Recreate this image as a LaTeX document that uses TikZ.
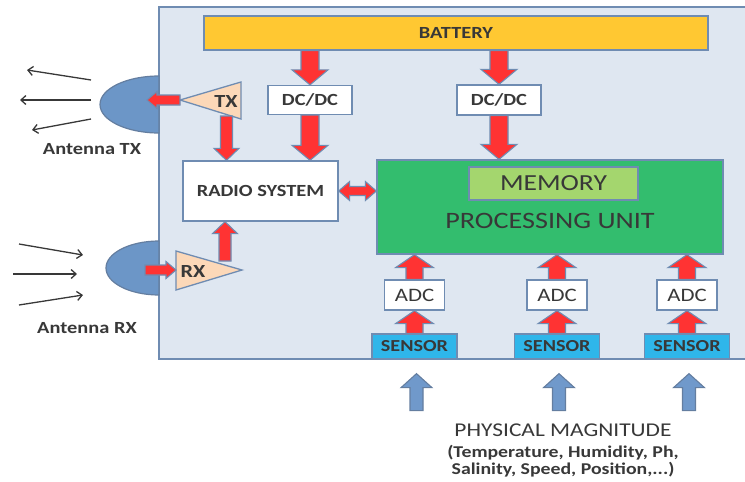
\documentclass[tikz,border=0pt]{standalone}
\usepackage{fontspec}
\setmainfont{Carlito}[FakeStretch=1.2]
\usetikzlibrary{calc,arrows.meta}
\definecolor{boardfill}{HTML}{DFE7F1}
\definecolor{edgeblue}{HTML}{6F8CB2}
\definecolor{battfill}{HTML}{FFC832}
\definecolor{pufill}{HTML}{33BD6E}
\definecolor{memfill}{HTML}{A4D66E}
\definecolor{sensfill}{HTML}{2FB6EA}
\definecolor{ampfill}{HTML}{FCD8B8}
\definecolor{antfill}{HTML}{6C96C7}
\definecolor{arrred}{HTML}{FF3333}
\definecolor{arrblue}{HTML}{7099CB}
\definecolor{txtgrey}{HTML}{383838}
\tikzset{
  arrshaft/.store in=\arrshaft, arrhead/.store in=\arrhead, arrtip/.store in=\arrtip,
  arrshaft=9pt, arrhead=18pt, arrtip=15pt,
  blockarrow/.style={draw=edgeblue, line width=1.1pt, line join=miter, fill=arrred,
    to path={($(\tikztotarget)!\arrtip!(\tikztostart)$) coordinate (ah)
      ($(\tikztostart)!\arrshaft!90:(\tikztotarget)$)
      -- ($(ah)!\arrshaft!90:(\tikztotarget)$)
      -- ($(ah)!\arrhead!90:(\tikztotarget)$)
      -- (\tikztotarget)
      -- ($(ah)!\arrhead!-90:(\tikztotarget)$)
      -- ($(ah)!\arrshaft!-90:(\tikztotarget)$)
      -- ($(\tikztostart)!\arrshaft!-90:(\tikztotarget)$) -- cycle}},
  twinarrow/.style={draw=edgeblue, line width=1.1pt, line join=miter, fill=arrred,
    to path={($(\tikztotarget)!\arrtip!(\tikztostart)$) coordinate (ah)
      ($(\tikztostart)!\arrtip!(\tikztotarget)$) coordinate (at)
      (\tikztostart)
      -- ($(at)!\arrhead!-90:(\tikztostart)$)
      -- ($(at)!\arrshaft!-90:(\tikztostart)$)
      -- ($(ah)!\arrshaft!90:(\tikztotarget)$)
      -- ($(ah)!\arrhead!90:(\tikztotarget)$)
      -- (\tikztotarget)
      -- ($(ah)!\arrhead!-90:(\tikztotarget)$)
      -- ($(ah)!\arrshaft!-90:(\tikztotarget)$)
      -- ($(at)!\arrshaft!90:(\tikztostart)$)
      -- ($(at)!\arrhead!90:(\tikztostart)$) -- cycle}},
  inarrow/.style={blockarrow, fill=arrblue, draw=edgeblue!90!black,
    arrshaft=6.5pt, arrhead=15.5pt, arrtip=14pt},
  box/.style={draw=edgeblue, line width=1.3pt, fill=white, inner sep=0pt},
  amp/.style={draw=edgeblue, line width=1.3pt, fill=ampfill, line join=miter},
  antenna/.style={draw=edgeblue!90!black, line width=1.2pt, fill=antfill},
  wave/.style={draw=txtgrey, line width=1.3pt, -{Straight Barb[length=5pt,width=9pt]}},
}
\begin{document}
\begin{tikzpicture}[x=1pt, y=-1pt, font=\bfseries, text=txtgrey]
\useasboundingbox (0,0) rectangle (745,482);
% board
\draw[draw=edgeblue, line width=1.4pt, fill=boardfill] (159,7) rectangle (752,359);
% power
\node[box, fill=battfill, minimum width=504pt, minimum height=34pt, font=\bfseries\fontsize{17}{19}\selectfont] (bat) at (456,33) {BATTERY};
\node[box, minimum width=84pt, minimum height=29pt, font=\bfseries\fontsize{17}{19}\selectfont] (dc1) at (310,100) {DC/DC};
\node[box, minimum width=84pt, minimum height=30pt, font=\bfseries\fontsize{17}{19}\selectfont] (dc2) at (499,100) {DC/DC};
% radio and processing
\node[box, minimum width=155pt, minimum height=60pt, font=\bfseries\fontsize{17}{19}\selectfont] (radio) at (260.5,191) {RADIO SYSTEM};
\node[box, fill=pufill, minimum width=346pt, minimum height=94pt] (pu) at (550,207) {};
\node[box, fill=memfill, minimum width=169pt, minimum height=33pt, font=\fontsize{23}{25}\selectfont] (mem) at (553.5,183.5) {MEMORY};
\node[font=\fontsize{23.5}{25}\selectfont] (pulbl) at (550,221) {PROCESSING UNIT};
% acquisition chains
\foreach \i/\x in {1/414.5,2/557,3/687}{
  \node[box, fill=sensfill, minimum width=85pt, minimum height=25pt, font=\bfseries\fontsize{16.8}{18}\selectfont] (sens\i) at (\x,346.5) {SENSOR};
  \node[box, minimum width=60pt, minimum height=30pt, font=\fontsize{19}{21}\selectfont] (adc\i) at (\x,295) {ADC};
  \draw[blockarrow, arrshaft=8.5pt, arrhead=19pt, arrtip=13pt] (sens\i.north) to (adc\i.south);
  \draw[blockarrow, arrshaft=8.5pt, arrhead=19pt, arrtip=13pt] (adc\i.north) to (pu.south -| adc\i);
  \draw[inarrow] ($(sens\i.south)+(2,51)$) to ($(sens\i.south)+(2,14)$);
}
% amplifiers
\draw[amp] (180,100) coordinate (txtip) -- (241,82) -- (241,119) -- cycle;
\node[font=\bfseries\fontsize{18.5}{20}\selectfont] (txlbl) at (226,101) {TX};
\draw[amp] (176,251) -- (242,270) coordinate (rxtip) -- (176,290) -- cycle;
\node[font=\bfseries\fontsize{18.5}{20}\selectfont] (rxlbl) at (193,271) {RX};
% antennas
\draw[antenna] (159,76) arc[start angle=90, end angle=270, x radius=59pt, y radius=28.5pt] -- cycle;
\draw[antenna] (159,241) arc[start angle=90, end angle=270, x radius=53pt, y radius=27pt] -- cycle;
\node[font=\bfseries\fontsize{17}{18}\selectfont] (anttx) at (92,149) {Antenna TX};
\node[font=\bfseries\fontsize{17}{18}\selectfont] (antrx) at (87,328) {Antenna RX};
\coordinate (txant) at (147,100);
\coordinate (rxant) at (145,270);
\coordinate (rxin) at (176,270);
\coordinate (txout) at (226.5,116);
\coordinate (rxout) at (225,261);
% power and signal arrows
\draw[blockarrow] (bat.south -| dc1) to (dc1.north);
\draw[blockarrow] (bat.south -| dc2) to (dc2.north);
\draw[blockarrow] (dc1.south) to (radio.north -| dc1);
\draw[blockarrow] (dc2.south) to (pu.north -| dc2);
\draw[blockarrow, arrshaft=6pt, arrhead=12.5pt, arrtip=12pt] (txout) to (radio.north -| txout);
\draw[blockarrow, arrshaft=6pt, arrhead=12.5pt, arrtip=12pt] (rxout) to (radio.south -| rxout);
\draw[blockarrow, arrshaft=5pt, arrhead=8.5pt, arrtip=10pt] (txtip) to (txant);
\draw[blockarrow, arrshaft=5pt, arrhead=8.5pt, arrtip=10pt] (rxant) to (rxin);
\draw[twinarrow, arrshaft=4.5pt, arrhead=9.5pt, arrtip=11pt] (radio.east) to (pu.west |- radio.east);
% radiated waves
\draw[wave] (91,80) -- (27,70);
\draw[wave] (91,100) -- (20,100);
\draw[wave] (91,119) -- (32,130);
\draw[wave] (19,244) -- (83,255);
\draw[wave] (13,274) -- (77,274);
\draw[wave] (19,305) -- (83,295);
% physical inputs
\node[font=\mdseries\fontsize{19.5}{21}\selectfont] (phys) at (563,430) {PHYSICAL MAGNITUDE};
\node[font=\bfseries\fontsize{16.5}{17.5}\selectfont, align=center] (physlist) at (563,461) {(Temperature, Humidity, Ph,\\Salinity, Speed, Position,...)};
\end{tikzpicture}
\end{document}
